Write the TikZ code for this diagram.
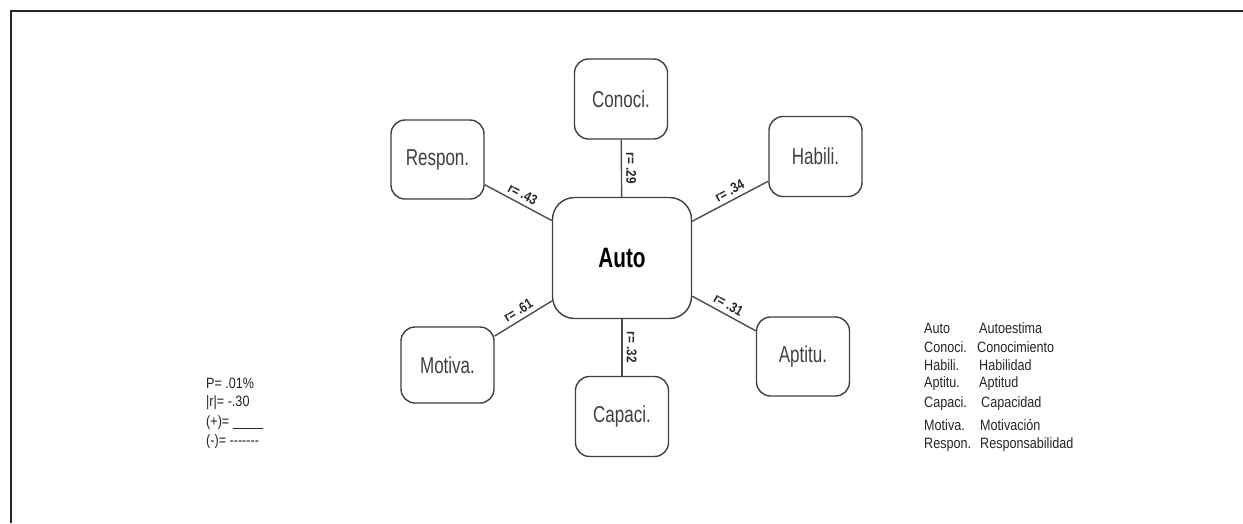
\documentclass[tikz,border=0pt]{standalone}
\usepackage{fontspec}
\setmainfont{Liberation Sans}[FakeStretch=0.74]
\newfontfamily\legfont{Liberation Sans}[FakeStretch=0.84]
\begin{document}
\begin{tikzpicture}[x=1pt,y=-1pt,
  box/.style={draw=black!75, line width=1.4pt, rounded corners=14pt, fill=white,
    text=black!75, font=\fontsize{23}{26}\selectfont, inner sep=0pt},
  small/.style={box, minimum width=93pt, minimum height=80pt},
  conn/.style={draw=black!70, line width=1.4pt},
  lab/.style={font=\legfont\bfseries\fontsize{14}{16}\selectfont, text=black!85, inner sep=1pt},
  leg/.style={font=\legfont\fontsize{15}{16}\selectfont, text=black!85, anchor=west, inner sep=0pt}]
\useasboundingbox (0,0) rectangle (1243,523);
\fill[white] (0,0) rectangle (1243,523);
% frame
\draw[line width=2pt, black!85] (11,523) -- (11,10.5) -- (1243,10.5);
% nodes
\node[box, minimum width=139pt, minimum height=121pt, rounded corners=22pt,
      text=black, font=\bfseries\fontsize{28}{30}\selectfont] (auto) at (622,258) {Auto};
\node[small] (con) at (621,99) {Conoci.};
\node[small, minimum height=79pt] (resp) at (437.5,159.5) {Respon.};
\node[small] (hab) at (815.5,156.5) {Habili.};
\node[small, minimum height=76pt] (mot) at (447.5,365) {Motiva.};
\node[small] (cap) at (622,416.5) {Capaci.};
\node[small, minimum height=79pt] (apt) at (803,356.5) {Aptitu.};
% connectors
\draw[conn] (resp) -- node[lab, sloped, above=3pt, pos=0.5] {r= .43} (auto);
\draw[conn] (auto) -- node[lab, sloped, above=3pt, pos=0.55] {r= .34} (hab);
\draw[conn] (mot) -- node[lab, sloped, above=3pt, pos=0.5] {r= .61} (auto);
\draw[conn] (auto) -- node[lab, sloped, above=3pt, pos=0.5] {r= .31} (apt);
\draw[conn] (auto) -- node[lab, sloped, above=3pt, pos=0.5] {r= .29} (con);
\draw[conn] (auto) -- node[lab, sloped, above=3pt, pos=0.5] {r= .32} (cap);
% left legend
\node[leg] (p1) at (206,383) {P= .01\%};
\node[leg] (p2) at (206,403) {|r|= -.30};
\node[leg] (p3) at (206,423) {(+)= \underline{\hspace{30pt}}};
\node[leg] (p4) at (206,442) {(-)= -------};
% right legend
\node[leg] (a1) at (924,328) {Auto};      \node[leg] (b1) at (979,328) {Autoestima};
\node[leg] (a2) at (924,347) {Conoci.};   \node[leg] (b2) at (977,347) {Conocimiento};
\node[leg] (a3) at (924,365) {Habili.};   \node[leg] (b3) at (979,365) {Habilidad};
\node[leg] (a4) at (924,384) {Aptitu.};   \node[leg] (b4) at (979,384) {Aptitud};
\node[leg] (a5) at (924,404) {Capaci.};   \node[leg] (b5) at (981,404) {Capacidad};
\node[leg] (a6) at (924,425) {Motiva.};   \node[leg] (b6) at (980,425) {Motivación};
\node[leg] (a7) at (924,445) {Respon.};   \node[leg] (b7) at (980,445) {Responsabilidad};
\end{tikzpicture}
\end{document}
